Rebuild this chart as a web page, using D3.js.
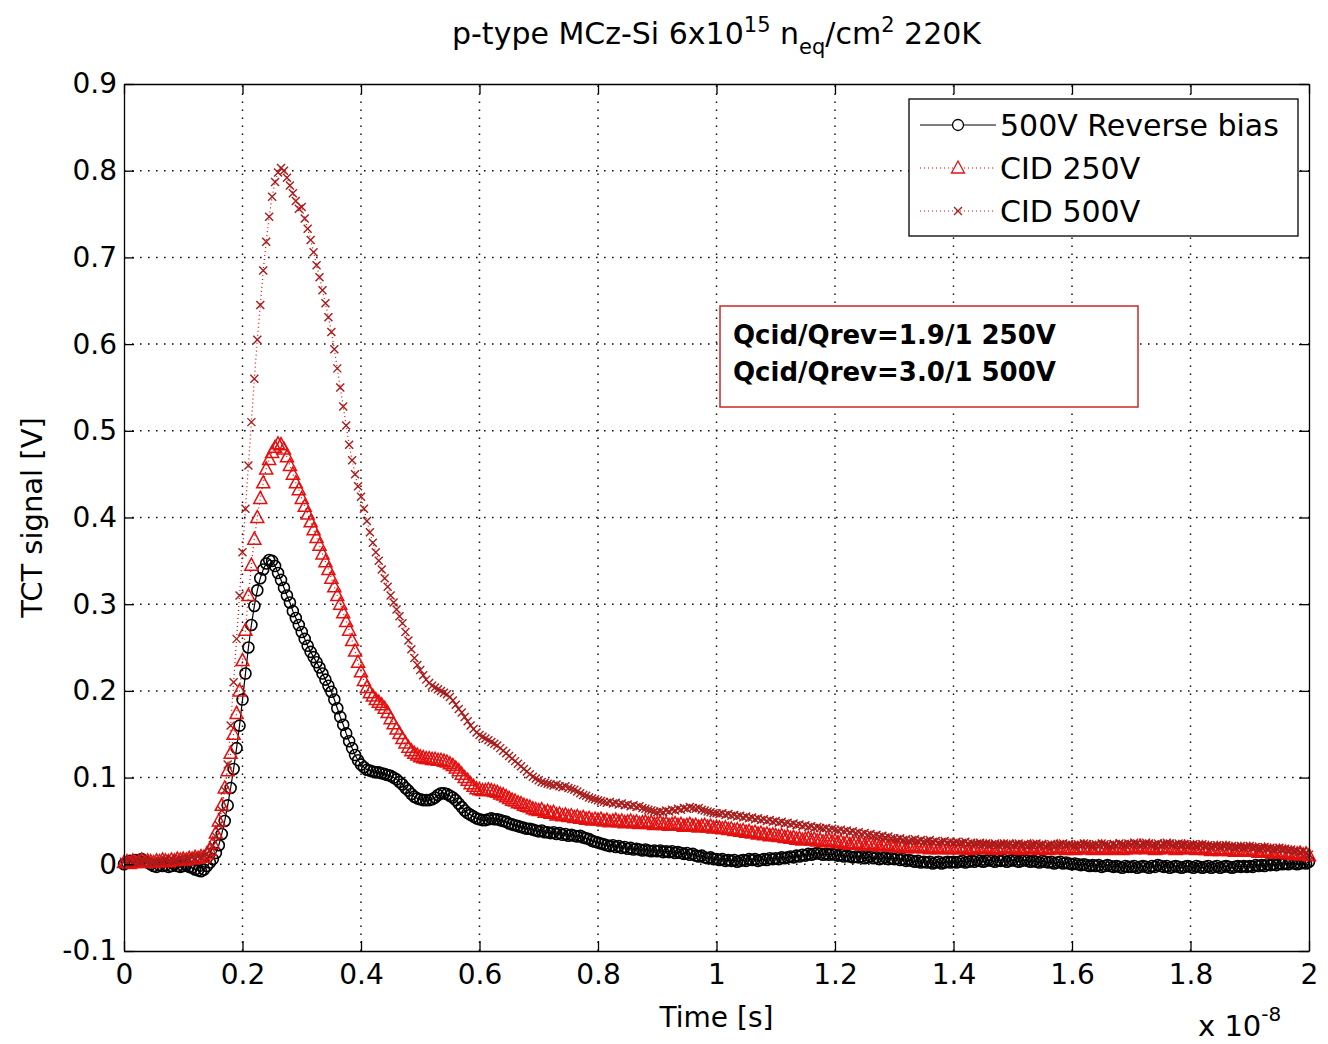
<!DOCTYPE html>
<html>
<head>
<meta charset="utf-8">
<script src="https://cdn.jsdelivr.net/npm/d3@7"></script>
<style>
  body { margin: 0; background: #fff; }
  svg { display: block; font-family: "DejaVu Sans", sans-serif; }
</style>
</head>
<body>
<div id="chart"></div>
<script>
// sampling grid of the scope traces, in units of 1e-8 s
const timeStep = 0.005;

const xTicks = [0, 0.2, 0.4, 0.6, 0.8, 1, 1.2, 1.4, 1.6, 1.8, 2];
const xTickLabels = ["0", "0.2", "0.4", "0.6", "0.8", "1", "1.2", "1.4", "1.6", "1.8", "2"];
const yTicks = [-0.1, 0, 0.1, 0.2, 0.3, 0.4, 0.5, 0.6, 0.7, 0.8, 0.9];
const yTickLabels = ["-0.1", "0", "0.1", "0.2", "0.3", "0.4", "0.5", "0.6", "0.7", "0.8", "0.9"];

const seriesNames = ["500V Reverse bias", "CID 250V", "CID 500V"];
const ratioNotes = ["Qcid/Qrev=1.9/1 250V", "Qcid/Qrev=3.0/1 500V"];

// TCT signal [V], one value per sample, rows of 20 samples (0.1e-8 s)
const reverse500 = [
  0.000, 0.002, 0.004, 0.003, 0.005, 0.004, 0.006, 0.003, 0.002, 0.000, -0.002, -0.003, -0.001, -0.002, -0.001, -0.003, -0.002, 0.000, -0.002, -0.003,
  -0.002, -0.001, -0.003, -0.004, -0.006, -0.007, -0.008, -0.006, -0.002, 0.002, 0.006, 0.013, 0.022, 0.035, 0.050, 0.068, 0.088, 0.110, 0.134, 0.160,
  0.190, 0.220, 0.250, 0.276, 0.298, 0.316, 0.330, 0.340, 0.347, 0.351, 0.350, 0.344, 0.336, 0.328, 0.319, 0.310, 0.302, 0.292, 0.284, 0.276,
  0.268, 0.260, 0.252, 0.245, 0.239, 0.233, 0.227, 0.220, 0.213, 0.206, 0.199, 0.190, 0.180, 0.170, 0.161, 0.151, 0.142, 0.134, 0.126, 0.120,
  0.115, 0.112, 0.109, 0.108, 0.107, 0.106, 0.106, 0.105, 0.104, 0.103, 0.102, 0.100, 0.098, 0.095, 0.092, 0.088, 0.085, 0.081, 0.078, 0.076,
  0.075, 0.074, 0.074, 0.074, 0.075, 0.077, 0.080, 0.082, 0.082, 0.081, 0.079, 0.077, 0.074, 0.070, 0.066, 0.062, 0.059, 0.057, 0.055, 0.053,
  0.052, 0.051, 0.051, 0.052, 0.053, 0.052, 0.052, 0.051, 0.050, 0.049, 0.047, 0.046, 0.045, 0.044, 0.043, 0.042, 0.041, 0.041, 0.040, 0.039,
  0.038, 0.039, 0.037, 0.037, 0.036, 0.037, 0.035, 0.036, 0.034, 0.035, 0.033, 0.034, 0.033, 0.032, 0.033, 0.031, 0.030, 0.029, 0.027, 0.026,
  0.025, 0.024, 0.023, 0.022, 0.021, 0.022, 0.020, 0.021, 0.019, 0.020, 0.018, 0.019, 0.017, 0.018, 0.017, 0.016, 0.017, 0.016, 0.015, 0.016,
  0.015, 0.016, 0.014, 0.015, 0.014, 0.015, 0.013, 0.014, 0.013, 0.012, 0.013, 0.011, 0.012, 0.010, 0.009, 0.010, 0.008, 0.007, 0.008, 0.006,
  0.006, 0.005, 0.006, 0.004, 0.005, 0.004, 0.005, 0.003, 0.004, 0.005, 0.004, 0.006, 0.005, 0.006, 0.004, 0.005, 0.006, 0.005, 0.007, 0.006,
  0.007, 0.006, 0.008, 0.007, 0.008, 0.009, 0.008, 0.010, 0.009, 0.011, 0.010, 0.012, 0.011, 0.012, 0.013, 0.012, 0.011, 0.012, 0.011, 0.012,
  0.011, 0.010, 0.011, 0.009, 0.010, 0.009, 0.008, 0.009, 0.008, 0.009, 0.007, 0.008, 0.009, 0.007, 0.008, 0.006, 0.007, 0.008, 0.006, 0.007,
  0.006, 0.007, 0.005, 0.006, 0.004, 0.005, 0.004, 0.003, 0.004, 0.002, 0.003, 0.002, 0.003, 0.001, 0.002, 0.003, 0.001, 0.002, 0.003, 0.002,
  0.003, 0.002, 0.003, 0.004, 0.002, 0.003, 0.004, 0.003, 0.005, 0.004, 0.003, 0.004, 0.005, 0.004, 0.003, 0.005, 0.004, 0.005, 0.003, 0.004,
  0.005, 0.004, 0.003, 0.004, 0.005, 0.004, 0.003, 0.004, 0.003, 0.002, 0.004, 0.003, 0.002, 0.003, 0.001, 0.002, 0.003, 0.001, 0.002, 0.001,
  0.000, 0.001, 0.000, -0.001, 0.000, -0.001, -0.002, -0.001, -0.002, -0.001, -0.003, -0.002, -0.001, -0.002, -0.003, -0.002, -0.003, -0.004, -0.002, -0.003,
  -0.003, -0.002, -0.004, -0.003, -0.002, -0.003, -0.004, -0.002, -0.003, -0.001, -0.002, -0.003, -0.002, -0.004, -0.003, -0.002, -0.003, -0.004, -0.003, -0.002,
  -0.003, -0.004, -0.002, -0.003, -0.004, -0.003, -0.002, -0.004, -0.003, -0.002, -0.004, -0.003, -0.002, -0.003, -0.004, -0.003, -0.002, -0.003, -0.002, -0.003,
  -0.002, -0.003, -0.001, -0.002, -0.001, -0.002, 0.000, -0.001, 0.000, -0.001, 0.001, 0.000, 0.001, 0.000, 0.002, 0.001, 0.000, 0.001, 0.002, 0.001,
  0.003
];

const cid250 = [
  0.002, 0.003, 0.001, 0.004, 0.002, 0.003, 0.005, 0.002, 0.004, 0.003, 0.002, 0.004, 0.003, 0.005, 0.004, 0.003, 0.005, 0.004, 0.006, 0.005,
  0.006, 0.005, 0.007, 0.006, 0.008, 0.007, 0.009, 0.008, 0.012, 0.016, 0.024, 0.036, 0.050, 0.068, 0.088, 0.108, 0.128, 0.150, 0.174, 0.200,
  0.235, 0.270, 0.310, 0.345, 0.375, 0.400, 0.422, 0.440, 0.456, 0.467, 0.475, 0.481, 0.485, 0.484, 0.479, 0.470, 0.460, 0.450, 0.440, 0.432,
  0.422, 0.413, 0.404, 0.395, 0.386, 0.377, 0.368, 0.358, 0.349, 0.340, 0.330, 0.320, 0.310, 0.300, 0.290, 0.280, 0.270, 0.258, 0.246, 0.233,
  0.222, 0.212, 0.204, 0.198, 0.194, 0.190, 0.187, 0.184, 0.180, 0.175, 0.168, 0.162, 0.156, 0.151, 0.145, 0.140, 0.135, 0.131, 0.128, 0.126,
  0.124, 0.123, 0.122, 0.122, 0.121, 0.121, 0.120, 0.120, 0.119, 0.118, 0.116, 0.114, 0.111, 0.108, 0.104, 0.100, 0.097, 0.093, 0.090, 0.087,
  0.086, 0.085, 0.085, 0.086, 0.085, 0.084, 0.083, 0.081, 0.080, 0.078, 0.076, 0.074, 0.073, 0.071, 0.070, 0.068, 0.067, 0.066, 0.064, 0.063,
  0.062, 0.063, 0.060, 0.061, 0.059, 0.060, 0.057, 0.058, 0.056, 0.057, 0.055, 0.056, 0.054, 0.055, 0.053, 0.054, 0.052, 0.053, 0.051, 0.052,
  0.051, 0.052, 0.050, 0.051, 0.049, 0.050, 0.051, 0.049, 0.050, 0.048, 0.049, 0.050, 0.048, 0.049, 0.047, 0.048, 0.049, 0.047, 0.048, 0.046,
  0.047, 0.048, 0.046, 0.047, 0.045, 0.046, 0.047, 0.045, 0.046, 0.044, 0.045, 0.046, 0.044, 0.045, 0.043, 0.044, 0.045, 0.043, 0.044, 0.042,
  0.043, 0.042, 0.041, 0.042, 0.040, 0.041, 0.039, 0.040, 0.038, 0.039, 0.037, 0.038, 0.036, 0.037, 0.035, 0.036, 0.034, 0.035, 0.033, 0.034,
  0.033, 0.032, 0.033, 0.031, 0.032, 0.030, 0.031, 0.029, 0.030, 0.028, 0.029, 0.030, 0.028, 0.029, 0.027, 0.028, 0.026, 0.027, 0.028, 0.026,
  0.027, 0.025, 0.026, 0.024, 0.025, 0.023, 0.024, 0.025, 0.023, 0.024, 0.022, 0.023, 0.024, 0.022, 0.023, 0.021, 0.022, 0.023, 0.021, 0.022,
  0.021, 0.020, 0.022, 0.021, 0.019, 0.020, 0.021, 0.019, 0.020, 0.021, 0.019, 0.020, 0.018, 0.019, 0.020, 0.018, 0.019, 0.020, 0.018, 0.019,
  0.018, 0.019, 0.020, 0.018, 0.019, 0.017, 0.018, 0.019, 0.020, 0.018, 0.019, 0.020, 0.018, 0.019, 0.017, 0.018, 0.019, 0.020, 0.018, 0.019,
  0.020, 0.018, 0.019, 0.017, 0.018, 0.019, 0.020, 0.018, 0.019, 0.017, 0.018, 0.019, 0.017, 0.018, 0.019, 0.020, 0.018, 0.019, 0.017, 0.018,
  0.019, 0.017, 0.018, 0.019, 0.020, 0.018, 0.019, 0.017, 0.018, 0.019, 0.020, 0.018, 0.017, 0.019, 0.018, 0.020, 0.019, 0.017, 0.018, 0.019,
  0.020, 0.018, 0.019, 0.021, 0.019, 0.018, 0.020, 0.019, 0.017, 0.018, 0.020, 0.019, 0.018, 0.020, 0.019, 0.017, 0.019, 0.018, 0.020, 0.019,
  0.018, 0.019, 0.017, 0.018, 0.019, 0.017, 0.018, 0.016, 0.017, 0.018, 0.016, 0.017, 0.018, 0.016, 0.017, 0.015, 0.016, 0.017, 0.015, 0.016,
  0.017, 0.015, 0.016, 0.014, 0.015, 0.016, 0.014, 0.015, 0.013, 0.014, 0.015, 0.013, 0.014, 0.012, 0.013, 0.011, 0.012, 0.013, 0.011, 0.012,
  0.010
];

const cid500 = [
  0.003, 0.001, 0.004, 0.002, 0.005, 0.003, 0.002, 0.004, 0.003, 0.001, 0.003, 0.002, 0.004, 0.003, 0.005, 0.004, 0.006, 0.004, 0.005, 0.006,
  0.005, 0.007, 0.006, 0.008, 0.007, 0.009, 0.008, 0.010, 0.012, 0.016, 0.022, 0.032, 0.045, 0.062, 0.085, 0.115, 0.160, 0.210, 0.260, 0.310,
  0.360, 0.410, 0.460, 0.510, 0.560, 0.605, 0.645, 0.685, 0.718, 0.747, 0.770, 0.787, 0.798, 0.803, 0.800, 0.792, 0.783, 0.774, 0.765, 0.756,
  0.758, 0.745, 0.733, 0.720, 0.706, 0.691, 0.677, 0.662, 0.647, 0.631, 0.614, 0.594, 0.572, 0.550, 0.528, 0.506, 0.484, 0.466, 0.450, 0.436,
  0.424, 0.410, 0.396, 0.383, 0.371, 0.360, 0.350, 0.340, 0.330, 0.320, 0.310, 0.302, 0.294, 0.286, 0.278, 0.268, 0.258, 0.248, 0.238, 0.230,
  0.224, 0.218, 0.213, 0.209, 0.206, 0.204, 0.202, 0.200, 0.198, 0.196, 0.193, 0.189, 0.184, 0.179, 0.175, 0.170, 0.165, 0.160, 0.156, 0.152,
  0.149, 0.147, 0.145, 0.143, 0.141, 0.139, 0.137, 0.134, 0.131, 0.128, 0.125, 0.122, 0.119, 0.116, 0.113, 0.110, 0.107, 0.104, 0.101, 0.099,
  0.097, 0.095, 0.094, 0.093, 0.092, 0.091, 0.092, 0.090, 0.089, 0.090, 0.088, 0.087, 0.086, 0.084, 0.082, 0.080, 0.079, 0.077, 0.076, 0.075,
  0.074, 0.073, 0.072, 0.071, 0.072, 0.070, 0.071, 0.069, 0.070, 0.068, 0.069, 0.067, 0.068, 0.066, 0.067, 0.065, 0.064, 0.063, 0.062, 0.061,
  0.060, 0.061, 0.060, 0.062, 0.061, 0.063, 0.062, 0.064, 0.063, 0.065, 0.064, 0.066, 0.065, 0.064, 0.065, 0.063, 0.062, 0.061, 0.060, 0.059,
  0.059, 0.058, 0.059, 0.057, 0.058, 0.056, 0.057, 0.055, 0.056, 0.054, 0.055, 0.053, 0.054, 0.052, 0.053, 0.051, 0.052, 0.050, 0.051, 0.049,
  0.050, 0.048, 0.049, 0.047, 0.048, 0.046, 0.047, 0.045, 0.046, 0.044, 0.045, 0.043, 0.044, 0.042, 0.043, 0.042, 0.041, 0.042, 0.040, 0.041,
  0.040, 0.039, 0.040, 0.038, 0.039, 0.037, 0.038, 0.036, 0.037, 0.035, 0.036, 0.034, 0.035, 0.033, 0.034, 0.032, 0.033, 0.031, 0.032, 0.030,
  0.030, 0.029, 0.030, 0.028, 0.029, 0.027, 0.028, 0.029, 0.027, 0.028, 0.026, 0.027, 0.028, 0.026, 0.027, 0.025, 0.026, 0.027, 0.025, 0.026,
  0.025, 0.026, 0.024, 0.025, 0.026, 0.024, 0.025, 0.023, 0.024, 0.025, 0.023, 0.024, 0.022, 0.023, 0.024, 0.022, 0.023, 0.024, 0.022, 0.023,
  0.022, 0.023, 0.024, 0.022, 0.023, 0.021, 0.022, 0.023, 0.024, 0.022, 0.023, 0.021, 0.022, 0.023, 0.021, 0.022, 0.023, 0.024, 0.022, 0.023,
  0.022, 0.021, 0.023, 0.022, 0.024, 0.023, 0.022, 0.021, 0.023, 0.022, 0.024, 0.023, 0.022, 0.021, 0.023, 0.022, 0.024, 0.023, 0.022, 0.024,
  0.023, 0.025, 0.024, 0.022, 0.023, 0.025, 0.024, 0.022, 0.023, 0.024, 0.022, 0.023, 0.025, 0.024, 0.022, 0.023, 0.024, 0.022, 0.023, 0.021,
  0.022, 0.023, 0.021, 0.022, 0.023, 0.021, 0.022, 0.020, 0.021, 0.022, 0.020, 0.021, 0.022, 0.020, 0.021, 0.019, 0.020, 0.021, 0.019, 0.020,
  0.021, 0.019, 0.020, 0.018, 0.019, 0.020, 0.018, 0.019, 0.017, 0.018, 0.019, 0.017, 0.018, 0.016, 0.017, 0.015, 0.016, 0.014, 0.015, 0.013,
  0.011
];

const W = 1328, H = 1044;
const margin = { top: 84, right: 19, bottom: 93, left: 124 };

const svg = d3.select("#chart").append("svg")
  .attr("width", W)
  .attr("height", H);

const x = d3.scaleLinear().domain([0, 2]).range([margin.left, W - margin.right]);
const y = d3.scaleLinear().domain([-0.1, 0.9]).range([H - margin.bottom, margin.top]);

// dotted grid
const grid = svg.append("g")
  .attr("stroke", "#111")
  .attr("stroke-width", 1.5)
  .attr("stroke-dasharray", "1.6,6.4");
grid.selectAll(".gx").data(xTicks.slice(1, -1)).enter().append("line")
  .attr("x1", d => x(d)).attr("x2", d => x(d))
  .attr("y1", y(-0.1)).attr("y2", y(0.9));
grid.selectAll(".gy").data(yTicks.slice(1, -1)).enter().append("line")
  .attr("x1", x(0)).attr("x2", x(2))
  .attr("y1", d => y(d)).attr("y2", d => y(d));

// series
const samples = vals => vals.map((v, i) => ({ t: i * timeStep, v }));
const line = d3.line().x(d => x(d.t)).y(d => y(d.v));

const plot = svg.append("g");

function drawSeries(vals, opts) {
  const data = samples(vals);
  plot.append("path")
    .datum(data)
    .attr("fill", "none")
    .attr("stroke", opts.lineColor)
    .attr("stroke-width", 1.2)
    .attr("stroke-dasharray", opts.dash)
    .attr("d", line);
  plot.append("g").selectAll("path")
    .data(data)
    .enter().append("path")
    .attr("transform", d => `translate(${x(d.t)},${y(d.v)})`)
    .attr("d", opts.marker)
    .attr("fill", "none")
    .attr("stroke", opts.markerColor)
    .attr("stroke-width", opts.markerWidth);
}

const circleMarker = "M5.5,0A5.5,5.5 0 1,1 -5.5,0A5.5,5.5 0 1,1 5.5,0Z";
const triangleMarker = "M0,-7L6.5,5L-6.5,5Z";
const crossMarker = "M-4,-4L4,4M-4,4L4,-4";

drawSeries(reverse500, { lineColor: "#000", dash: null, marker: circleMarker, markerColor: "#000", markerWidth: 1.6 });
drawSeries(cid250, { lineColor: "#e00", dash: "1,3", marker: triangleMarker, markerColor: "#e41010", markerWidth: 1.5 });
drawSeries(cid500, { lineColor: "#e00", dash: "1,3", marker: crossMarker, markerColor: "#a81c1c", markerWidth: 1.4 });

// axes with inward ticks on all four sides
function styleAxis(g) {
  g.attr("font-family", null).attr("font-size", null);
  g.selectAll("path.domain").attr("stroke", "#000").attr("stroke-width", 1.3);
  g.selectAll(".tick line").attr("stroke", "#000").attr("stroke-width", 1.3);
  g.selectAll("text").attr("fill", "#000").style("font-size", "28px");
}

svg.append("g")
  .attr("transform", `translate(0,${y(-0.1)})`)
  .call(d3.axisBottom(x).tickValues(xTicks).tickSize(-10).tickSizeOuter(0).tickPadding(13)
    .tickFormat((d, i) => xTickLabels[i]))
  .call(styleAxis);
svg.append("g")
  .attr("transform", `translate(0,${y(0.9)})`)
  .call(d3.axisTop(x).tickValues(xTicks).tickSize(-10).tickSizeOuter(0).tickFormat(""))
  .call(styleAxis);
svg.append("g")
  .attr("transform", `translate(${x(0)},0)`)
  .call(d3.axisLeft(y).tickValues(yTicks).tickSize(-10).tickSizeOuter(0).tickPadding(7)
    .tickFormat((d, i) => yTickLabels[i]))
  .call(styleAxis);
svg.append("g")
  .attr("transform", `translate(${x(2)},0)`)
  .call(d3.axisRight(y).tickValues(yTicks).tickSize(-10).tickSizeOuter(0).tickFormat(""))
  .call(styleAxis);

// axis labels
svg.append("text")
  .attr("x", x(1)).attr("y", 1027)
  .attr("text-anchor", "middle")
  .style("font-size", "28px")
  .text("Time [s]");

svg.append("text")
  .attr("transform", `translate(42,${y(0.4)}) rotate(-90)`)
  .attr("text-anchor", "middle")
  .style("font-size", "29px")
  .text("TCT signal [V]");

const expo = svg.append("text")
  .attr("x", 1198).attr("y", 1036)
  .style("font-size", "29px");
expo.append("tspan").text("x 10");
expo.append("tspan").attr("dy", -15).style("font-size", "20px").text("-8");

// title
const title = svg.append("text")
  .attr("x", x(1)).attr("y", 44)
  .attr("text-anchor", "middle")
  .style("font-size", "30px");
title.append("tspan").text("p-type MCz-Si 6x10");
title.append("tspan").attr("dy", -12).style("font-size", "21px").text("15");
title.append("tspan").attr("dy", 12).text(" n");
title.append("tspan").attr("dy", 10).style("font-size", "21px").text("eq");
title.append("tspan").attr("dy", -10).text("/cm");
title.append("tspan").attr("dy", -12).style("font-size", "21px").text("2");
title.append("tspan").attr("dy", 12).text(" 220K");

// legend
const legend = svg.append("g").attr("transform", "translate(909,99)");
legend.append("rect")
  .attr("width", 389).attr("height", 137)
  .attr("fill", "#fff").attr("stroke", "#000").attr("stroke-width", 1.3);
const legendStyles = [
  { lineColor: "#000", dash: null, marker: circleMarker, markerColor: "#000" },
  { lineColor: "#e00", dash: "1,3", marker: triangleMarker, markerColor: "#e41010" },
  { lineColor: "#e00", dash: "1,3", marker: crossMarker, markerColor: "#a81c1c" }
];
const rows = legend.selectAll(".row").data(seriesNames).enter().append("g")
  .attr("transform", (d, i) => `translate(0,${26 + i * 43})`);
rows.append("line")
  .attr("x1", 11).attr("x2", 87).attr("y1", 0).attr("y2", 0)
  .attr("stroke", (d, i) => legendStyles[i].lineColor)
  .attr("stroke-dasharray", (d, i) => legendStyles[i].dash)
  .attr("stroke-width", 1.2);
rows.append("path")
  .attr("transform", "translate(49,0)")
  .attr("d", (d, i) => legendStyles[i].marker)
  .attr("fill", "#fff")
  .attr("stroke", (d, i) => legendStyles[i].markerColor)
  .attr("stroke-width", 1.3);
rows.append("text")
  .attr("x", 91).attr("y", 0)
  .attr("dy", "0.36em")
  .style("font-size", "30px")
  .text(d => d);

// charge ratio note
const note = svg.append("g").attr("transform", "translate(720,306)");
note.append("rect")
  .attr("width", 418).attr("height", 101)
  .attr("fill", "#fff").attr("stroke", "#c82828").attr("stroke-width", 1.5);
note.selectAll("text").data(ratioNotes).enter().append("text")
  .attr("x", 13).attr("y", (d, i) => 38 + i * 37)
  .style("font-size", "26px").style("font-weight", "bold")
  .text(d => d);
</script>
</body>
</html>
